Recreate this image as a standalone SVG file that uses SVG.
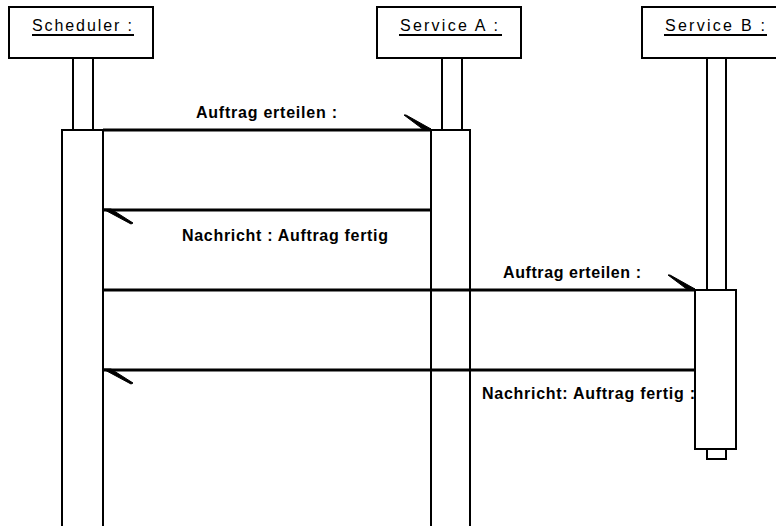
<svg xmlns="http://www.w3.org/2000/svg" width="776" height="526" viewBox="0 0 776 526">
<style>
.box{fill:#fff;stroke:#000;stroke-width:2}
.msg{stroke:#000;stroke-width:3;fill:none}
.ul{stroke:#000;stroke-width:2}
.hd{font-family:"Liberation Sans",Arial,sans-serif;font-size:16px;fill:#000}
.lb{font-family:"Liberation Sans",Arial,sans-serif;font-size:16px;font-weight:bold;fill:#000}
.ah{fill:#000;stroke:#000;stroke-width:1}
</style>
<rect width="776" height="526" fill="#fff"/>
<g id="scheduler">
<rect class="box" x="9" y="7" width="144" height="51"/>
<text class="hd" x="32" y="31" textLength="100" lengthAdjust="spacing">Scheduler :</text>
<line class="ul" x1="32" y1="35" x2="134" y2="35"/>
<rect class="box" x="73" y="58" width="20" height="72"/>
<rect class="box" x="62" y="130" width="41" height="410"/>
</g>
<g id="serviceA">
<rect class="box" x="377" y="7" width="144" height="51"/>
<text class="hd" x="400" y="31" textLength="98" lengthAdjust="spacing">Service A :</text>
<line class="ul" x1="399" y1="35" x2="502" y2="35"/>
<rect class="box" x="442" y="58" width="20" height="72"/>
<rect class="box" x="431" y="130" width="39" height="410"/>
</g>
<g id="connectors">
<line class="msg" x1="103" y1="130" x2="431" y2="130"/>
<polygon class="ah" points="404,115 406,115 431,129 424,130"/>
<text class="lb" x="196" y="118" textLength="141" lengthAdjust="spacing">Auftrag erteilen :</text>
<line class="msg" x1="103" y1="210" x2="431" y2="210"/>
<polygon class="ah" points="103,209 111,209 133,223 131,224"/>
<text class="lb" x="182" y="241" textLength="206" lengthAdjust="spacing">Nachricht : Auftrag fertig</text>
<line class="msg" x1="103" y1="290" x2="695" y2="290"/>
<polygon class="ah" points="668,275 670,275 695,289 688,290"/>
<text class="lb" x="503" y="278" textLength="138" lengthAdjust="spacing">Auftrag erteilen :</text>
<line class="msg" x1="103" y1="370" x2="695" y2="370"/>
<polygon class="ah" points="103,369 111,369 133,383 131,384"/>
<text class="lb" x="482" y="399" textLength="213" lengthAdjust="spacing">Nachricht: Auftrag fertig :</text>
</g>
<g id="serviceB">
<rect class="box" x="642" y="7" width="142" height="51"/>
<text class="hd" x="665" y="31" textLength="100" lengthAdjust="spacing">Service B :</text>
<line class="ul" x1="664" y1="35" x2="767" y2="35"/>
<rect class="box" x="707" y="58" width="19" height="232"/>
<rect class="box" x="707" y="440" width="19" height="19"/>
<rect class="box" x="695" y="290" width="41" height="159"/>
</g>
</svg>
